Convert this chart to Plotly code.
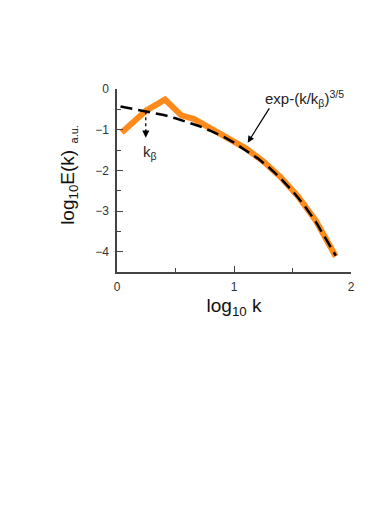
import plotly.graph_objects as go

# measured spectrum (log10 k, log10 E)
spec_x = [0.04, 0.25, 0.41, 0.55, 0.66, 0.80, 0.95, 1.10, 1.25, 1.40, 1.55, 1.70, 1.87]
spec_y = [-1.07, -0.53, -0.26, -0.65, -0.74, -0.98, -1.20, -1.46, -1.78, -2.17, -2.65, -3.24, -4.12]

# stretched-exponential fit exp-(k/kb)^(3/5)
fit_x = [0.03, 0.1, 0.2, 0.3, 0.4, 0.5, 0.6, 0.7, 0.8, 0.9, 1.0, 1.1, 1.2,
         1.3, 1.4, 1.5, 1.6, 1.7, 1.8, 1.87]
fit_y = [-0.43, -0.47, -0.52, -0.58, -0.64, -0.72, -0.81, -0.91, -1.03, -1.16,
         -1.32, -1.50, -1.70, -1.93, -2.20, -2.51, -2.86, -3.27, -3.74, -4.10]

k_beta = 0.246
FONT = "Liberation Sans, Arial, sans-serif"
AXIS_COLOR = "#444444"

fig = go.Figure()
fig.add_trace(go.Scatter(x=spec_x, y=spec_y, mode="lines",
                         line=dict(color="#FF8A1C", width=6)))
fig.add_trace(go.Scatter(x=fit_x, y=fit_y, mode="lines",
                         line=dict(color="black", width=2.5, dash="12px,6px")))

# dotted arrow marking k_beta
fig.add_shape(type="line", x0=k_beta, x1=k_beta, y0=-0.55, y1=-1.12,
              line=dict(color="black", width=1.3, dash="dot"))
fig.add_annotation(x=k_beta, y=-1.2, ax=k_beta, ay=-1.05, xref="x", yref="y",
                   axref="x", ayref="y", text="", showarrow=True,
                   arrowhead=2, arrowsize=1.2, arrowwidth=1.2, arrowcolor="black")
fig.add_annotation(x=0.28, y=-1.56, text="k<sub>β</sub>", showarrow=False,
                   font=dict(size=15, color="#222", family=FONT))

# fit label
fig.add_annotation(x=1.117, y=-1.32, ax=1.31, ay=-0.44, xref="x", yref="y",
                   axref="x", ayref="y", text="", showarrow=True,
                   arrowhead=2, arrowsize=1.1, arrowwidth=1.2, arrowcolor="black")
fig.add_annotation(x=1.60, y=-0.24, text="exp-(k/k<sub>β</sub>)<sup>3/5</sup>",
                   showarrow=False, font=dict(size=15, color="#222", family=FONT))

# y title
fig.add_annotation(xref="paper", yref="paper", x=-0.205, y=0.46, xanchor="center",
                   yanchor="middle", text="log<sub>10</sub>E(k)", textangle=-90,
                   showarrow=False, font=dict(size=19, color="#111", family=FONT))
fig.add_annotation(xref="paper", yref="paper", x=-0.185, y=0.75, xanchor="center",
                   yanchor="middle", text="a.u.", textangle=-90, showarrow=False,
                   font=dict(size=11, color="#111", family=FONT))

fig.update_layout(
    width=354, height=514,
    margin=dict(l=109, r=7, t=81, b=250),
    paper_bgcolor="white", plot_bgcolor="white",
    showlegend=False,
    font=dict(family=FONT, size=12, color="#333"),
)
fig.update_xaxes(
    range=[0, 2], dtick=1, showgrid=False, zeroline=False,
    showline=True, linecolor=AXIS_COLOR, linewidth=1.5,
    ticks="inside", ticklen=6, tickwidth=1.3, tickcolor=AXIS_COLOR,
    minor=dict(ticks="inside", ticklen=4, dtick=0.5, tickcolor=AXIS_COLOR, tickwidth=1.2),
    ticklabelstandoff=3,
    title=dict(text="log<sub>10</sub> k", font=dict(size=19, color="#111"), standoff=6),
)
fig.update_yaxes(
    range=[-4.5, 0], dtick=1, showgrid=False, zeroline=False,
    showline=True, linecolor=AXIS_COLOR, linewidth=1.5,
    ticks="inside", ticklen=6, tickwidth=1.3, tickcolor=AXIS_COLOR,
    minor=dict(ticks="inside", ticklen=4, dtick=0.5, tickcolor=AXIS_COLOR, tickwidth=1.2),
    ticklabelstandoff=4,
)

fig.write_html("out.html")
